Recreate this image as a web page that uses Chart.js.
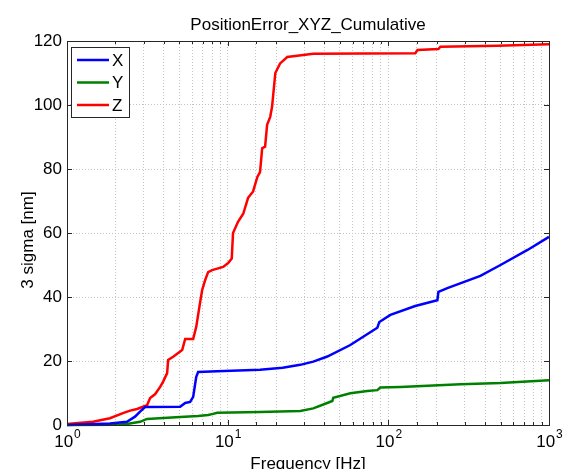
<!DOCTYPE html>
<html>
<head>
<meta charset="utf-8">
<script src="https://cdn.jsdelivr.net/npm/chart.js@4"></script>
<style>body{margin:0;background:#fff}</style>
</head>
<body>
<canvas id="cumulativo" width="563" height="469"></canvas>
<script>
// valores (frecuencia en Hz, 3 sigma en nm)
const freqX = [1, 1.85, 2.36, 2.65, 2.85, 3.06, 5.06, 5.44, 5.84, 6.1, 6.37, 6.55, 8.6, 15.9, 22, 28.3, 34.1, 41.7, 58, 85.4, 87.9, 103, 147, 202, 205, 233, 374, 499, 735, 1000];
const sigmaX = [0, 0.5, 1, 2.6, 4.2, 5.6, 5.7, 6.9, 7.2, 8.8, 15, 16.6, 16.8, 17.3, 17.9, 18.8, 19.8, 21.4, 25, 30.4, 32.2, 34.4, 37.2, 39, 41.6, 42.8, 46.6, 50, 54.7, 58.8];

const freqY = [1, 2.0, 2.36, 2.85, 3.15, 5.06, 6.55, 7.56, 8.0, 8.6, 15.9, 28.3, 34.1, 39.4, 44.8, 45.4, 58, 74, 85.4, 89.1, 119, 281, 499, 1000];
const sigmaY = [0, 0.1, 0.3, 1, 1.9, 2.5, 2.8, 3.1, 3.4, 3.8, 4.1, 4.4, 5.2, 6.4, 7.5, 8.5, 9.9, 10.6, 10.9, 11.7, 11.9, 12.7, 13.1, 14];

const freqZ = [1, 1.45, 1.85, 2.23, 2.47, 2.73, 3.15, 3.29, 3.53, 3.8, 3.96, 4.2, 4.26, 4.58, 5.21, 5.44, 6.1, 6.37, 6.55, 6.74, 6.94, 7.24, 7.56, 8.0, 9.37, 10.07, 10.6, 10.8, 11.6, 12.5, 13.4, 14.4, 15.3, 15.9, 16.4, 17.1, 17.6, 18.4, 18.9, 19.8, 21.2, 23.5, 29.5, 34.1, 147, 152, 205, 211, 478, 1000];
const sigmaZ = [0.3, 1, 2.1, 3.7, 4.5, 5, 6.2, 8.4, 9.6, 11.9, 13.5, 16.2, 20.3, 21.3, 23.4, 26.9, 26.9, 30.6, 34.4, 38.4, 42.2, 45.3, 47.8, 48.4, 49.4, 50.6, 52, 60, 63.5, 66, 71, 73, 77.5, 79, 86.5, 87, 93.8, 96.3, 99.5, 110, 113, 115, 115.6, 116, 116.2, 117.2, 117.5, 118.2, 118.5, 119];

const decadas = [1, 10, 100, 1000];
const FUENTE = "'Liberation Sans', Arial, sans-serif";

function puntos(f, v) {
    return f.map((x, i) => ({x: x, y: v[i]}));
}

// caja, marcas, leyenda y textos al estilo matlab
const ejes = {
    id: 'ejes',
    afterDatasetsDraw(chart) {
        const ctx = chart.ctx, a = chart.chartArea;
        const sx = chart.scales.x, sy = chart.scales.y;
        ctx.save();
        ctx.strokeStyle = '#262626';
        ctx.lineWidth = 1;
        ctx.beginPath();
        sx.ticks.forEach(t => {
            const px = Math.round(sx.getPixelForValue(t.value)) + 0.5;
            const mayor = Math.abs(Math.log10(t.value) - Math.round(Math.log10(t.value))) < 1e-9;
            const l = mayor ? 5 : 3;
            ctx.moveTo(px, a.bottom); ctx.lineTo(px, a.bottom - l);
            ctx.moveTo(px, a.top); ctx.lineTo(px, a.top + l);
        });
        sy.ticks.forEach(t => {
            const py = Math.round(sy.getPixelForValue(t.value)) + 0.5;
            ctx.moveTo(a.left, py); ctx.lineTo(a.left + 5, py);
            ctx.moveTo(a.right, py); ctx.lineTo(a.right - 5, py);
        });
        ctx.stroke();
        ctx.strokeRect(Math.round(a.left) + 0.5, Math.round(a.top) + 0.5, Math.round(a.right - a.left), Math.round(a.bottom - a.top));
        ctx.restore();
    },
    afterDraw(chart) {
        const ctx = chart.ctx, a = chart.chartArea;
        const sx = chart.scales.x;
        ctx.save();
        ctx.fillStyle = '#000';

        // titulo
        ctx.font = '17px ' + FUENTE;
        ctx.textAlign = 'center';
        ctx.textBaseline = 'alphabetic';
        ctx.fillText('PositionError_XYZ_Cumulative', (a.left + a.right) / 2, 30);
        ctx.fillText('Frequency [Hz]', (a.left + a.right) / 2, 469);

        ctx.save();
        ctx.translate(28, 240);
        ctx.rotate(-Math.PI / 2);
        ctx.textBaseline = 'middle';
        ctx.fillText('3 sigma [nm]', 0, 0);
        ctx.restore();

        // etiquetas 10^n
        decadas.forEach(v => {
            const px = sx.getPixelForValue(v);
            const exp = String(Math.round(Math.log10(v)));
            ctx.font = '17px ' + FUENTE;
            const w1 = ctx.measureText('10').width;
            ctx.font = '12px ' + FUENTE;
            const w2 = ctx.measureText(exp).width;
            const x0 = px - (w1 + w2) / 2;
            ctx.textAlign = 'left';
            ctx.font = '17px ' + FUENTE;
            ctx.fillText('10', x0, 447);
            ctx.font = '12px ' + FUENTE;
            ctx.fillText(exp, x0 + w1 + 1, 438);
        });

        // leyenda
        const caja = {x: 71, y: 47, w: 58, h: 70};
        ctx.fillStyle = '#fff';
        ctx.fillRect(caja.x, caja.y, caja.w, caja.h);
        ctx.strokeStyle = '#262626';
        ctx.lineWidth = 1;
        ctx.strokeRect(caja.x + 0.5, caja.y + 0.5, caja.w, caja.h);
        ctx.font = '17px ' + FUENTE;
        ctx.textAlign = 'left';
        ctx.textBaseline = 'middle';
        chart.data.datasets.forEach((d, i) => {
            const yy = 60 + i * 22.5;
            ctx.strokeStyle = d.borderColor;
            ctx.lineWidth = 2.5;
            ctx.beginPath();
            ctx.moveTo(77, yy); ctx.lineTo(109, yy);
            ctx.stroke();
            ctx.fillStyle = '#000';
            ctx.fillText(d.label, 112, yy + 1);
        });
        ctx.restore();
    }
};

new Chart(document.getElementById("cumulativo"), {
    type: 'line',
    data: {
        datasets: [{
            label: "X",
            data: puntos(freqX, sigmaX),
            borderColor: "#0000ff",
        }, {
            label: "Y",
            data: puntos(freqY, sigmaY),
            borderColor: "#008000",
        }, {
            label: "Z",
            data: puntos(freqZ, sigmaZ),
            borderColor: "#ff0000",
        }]
    },
    options: {
        responsive: false,
        animation: false,
        layout: {padding: {top: 41, right: 14, bottom: 44, left: 0}},
        elements: {
            line: {borderWidth: 2.5, tension: 0, fill: false},
            point: {radius: 0}
        },
        datasets: {line: {clip: 4}},
        plugins: {
            legend: {display: false},
            title: {display: false},
            tooltip: {enabled: false}
        },
        scales: {
            x: {
                type: 'logarithmic',
                min: 1,
                max: 1000,
                ticks: {display: false},
                grid: {color: '#c4c4c4', drawTicks: false},
                border: {display: false, dash: [1, 2]},
                afterFit: s => { s.height = 0; }
            },
            y: {
                min: 0,
                max: 120,
                ticks: {stepSize: 20, color: '#000', padding: 5, font: {size: 17, family: FUENTE}},
                grid: {color: '#c4c4c4', drawTicks: false},
                border: {display: false, dash: [1, 2]},
                afterFit: s => { s.width = 67; }
            }
        }
    },
    plugins: [ejes]
});
</script>
</body>
</html>
